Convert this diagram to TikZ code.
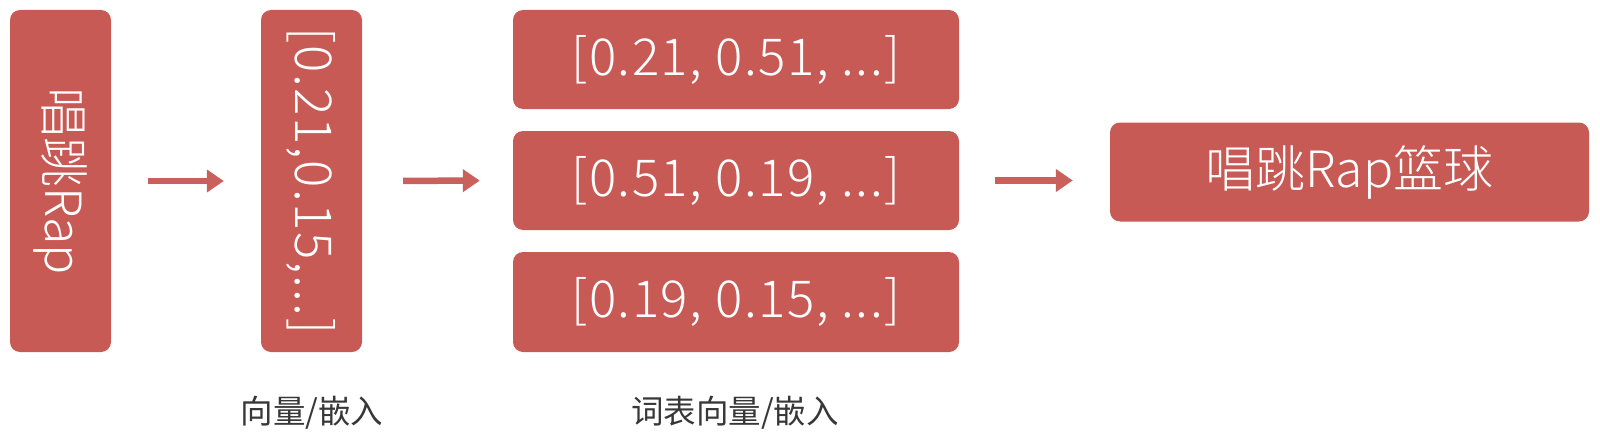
\documentclass[tikz,border=0pt]{standalone}
\usepackage{fontspec}
\setmainfont{Noto Sans CJK SC}
\newfontfamily\boxfont{Noto Sans CJK SC Light}
\newfontfamily\numfont[LetterSpace=3]{Noto Sans CJK SC Light}
\usetikzlibrary{arrows.meta}
\definecolor{boxred}{RGB}{200,90,86}
\definecolor{arrred}{RGB}{201,96,92}
\definecolor{labgray}{RGB}{55,55,55}
\begin{document}
\begin{tikzpicture}[x=1pt,y=-1pt,
  redbox/.style={fill=boxred,rounded corners=10pt,inner sep=0pt,text=white,
    font=\boxfont\fontsize{50}{50}\selectfont},
  numbox/.style={redbox,font=\numfont\fontsize{51}{51}\selectfont},
  flowarrow/.style={draw=arrred,line width=6.5pt,-{Triangle[length=17pt,width=22pt]}},
  caption/.style={text=labgray,font=\fontsize{32.5}{32.5}\selectfont,inner sep=0pt}]
\useasboundingbox (0,0) rectangle (1600,436);
\node[redbox,minimum width=101pt,minimum height=342pt] (b1) at (60.5,181) {\rotatebox{-90}{唱跳Rap}};
\node[numbox,minimum width=101pt,minimum height=342pt] (b2) at (311.5,181) {\rotatebox{-90}{[0.21,0.15,...]}};
\node[numbox,minimum width=446pt,minimum height=99pt] (b3a) at (736,59.5) {[0.21, 0.51, ...]};
\node[numbox,minimum width=446pt,minimum height=99pt] (b3b) at (736,180.5) {[0.51, 0.19, ...]};
\node[numbox,minimum width=446pt,minimum height=100pt] (b3c) at (736,302) {[0.19, 0.15, ...]};
\node[redbox,minimum width=479pt,minimum height=99pt] (b4) at (1349.5,172) {唱跳Rap篮球};
\node[caption] (l1) at (312,413) {向量/嵌入};
\node[caption] (l2) at (735,413) {词表向量/嵌入};
\draw[flowarrow,shorten <=37pt,shorten >=37pt] (b1.east) -- (b2.west);
\draw[flowarrow,shorten <=41pt,shorten >=33pt] (b2.east) -- (b3b.west);
\draw[flowarrow,shorten <=36pt,shorten >=37pt] (b3b.east) -- (b3b.east -| b4.west);
\end{tikzpicture}
\end{document}
